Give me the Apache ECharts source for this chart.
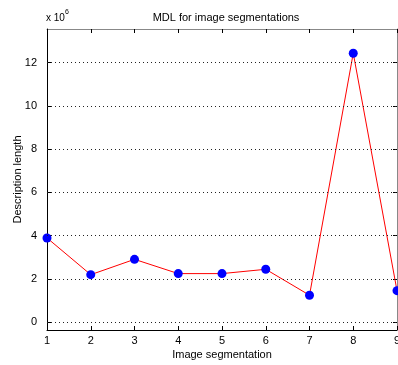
<!DOCTYPE html>
<html>
<head>
<meta charset="utf-8">
<script src="https://cdn.jsdelivr.net/npm/echarts@6/dist/echarts.min.js"></script>
<style>
  html, body { margin: 0; padding: 0; background: #fff; }
  #chart { width: 398px; height: 365px; }
</style>
</head>
<body>
<div id="chart"></div>
<script>
// Segmentation index and its description length (in units of 10^6)
const segments = [1, 2, 3, 4, 5, 6, 7, 8, 9];
const descLength = [3.89, 2.19, 2.90, 2.24, 2.24, 2.44, 1.24, 12.44, 1.45];
const yTicks = [0, 2, 4, 6, 8, 10, 12];
const xTicks = [1, 2, 3, 4, 5, 6, 7, 8, 9];

const font = 'Liberation Sans, Arial, sans-serif';
const chart = echarts.init(document.getElementById('chart'), null, { renderer: 'canvas' });

chart.setOption({
  animation: false,
  backgroundColor: '#fff',
  title: {
    text: 'MDL for image segmentations',
    left: 221, top: 7, textAlign: 'center',
    textStyle: { fontFamily: font, fontSize: 11, fontWeight: 'normal', color: '#000' }
  },
  graphic: [{
    type: 'text', left: 46, top: 9,
    style: {
      text: '{b|x 10}{s|6}',
      rich: {
        b: { fontFamily: font, fontSize: 10, fill: '#000', padding: [4, 0, 0, 0] },
        s: { fontFamily: font, fontSize: 7, fill: '#000', verticalAlign: 'top' }
      }
    }
  }],
  grid: { left: 47, right: 1, top: 29, bottom: 35, containLabel: false, outerBoundsMode: 'none' },
  xAxis: [{
    type: 'value', min: 1, max: 9, interval: 1,
    name: 'Image segmentation', nameLocation: 'middle', nameGap: 19,
    nameMoveOverlap: false,
    nameTextStyle: { fontFamily: font, fontSize: 11, color: '#000' },
    axisLine: { show: true, onZero: false, lineStyle: { color: '#000' } },
    axisTick: { show: true, inside: true, length: 4, lineStyle: { color: '#000' } },
    axisLabel: { fontFamily: font, fontSize: 11, color: '#000', margin: 5,
                 customValues: xTicks },
    splitLine: { show: false }
  }, {
    type: 'value', min: 1, max: 9, interval: 1, position: 'top',
    axisLine: { show: true, onZero: false, lineStyle: { color: '#888' } },
    axisTick: { show: true, inside: true, length: 4, lineStyle: { color: '#000' } },
    axisLabel: { show: false },
    splitLine: { show: false }
  }],
  yAxis: [{
    type: 'value', min: -0.37, max: 13.56,
    name: 'Description length', nameLocation: 'middle', nameGap: 24,
    nameMoveOverlap: false,
    nameTextStyle: { fontFamily: font, fontSize: 11, color: '#000' },
    axisLine: { show: true, onZero: false, lineStyle: { color: '#000' } },
    axisTick: { show: true, inside: true, length: 4, customValues: yTicks, lineStyle: { color: '#000' } },
    axisLabel: { fontFamily: font, fontSize: 11, color: '#000', margin: 10, customValues: yTicks },
    splitLine: { show: false }
  }, {
    type: 'value', min: -0.37, max: 13.56, position: 'right',
    axisLine: { show: true, onZero: false, lineStyle: { color: '#888' } },
    axisTick: { show: true, inside: true, length: 4, customValues: yTicks, lineStyle: { color: '#000' } },
    axisLabel: { show: false },
    splitLine: { show: false }
  }],
  series: [{
    type: 'line',
    data: segments.map((s, i) => [s, descLength[i]]),
    lineStyle: { color: '#ff0000', width: 1 },
    itemStyle: { color: '#0000ff' },
    symbol: 'circle', symbolSize: 9, showSymbol: true,
    z: 3,
    markLine: {
      silent: true, symbol: 'none', label: { show: false },
      lineStyle: { color: '#222', type: [1, 3], width: 1 },
      data: yTicks.map(v => ({ yAxis: v }))
    }
  }]
});
</script>
</body>
</html>
